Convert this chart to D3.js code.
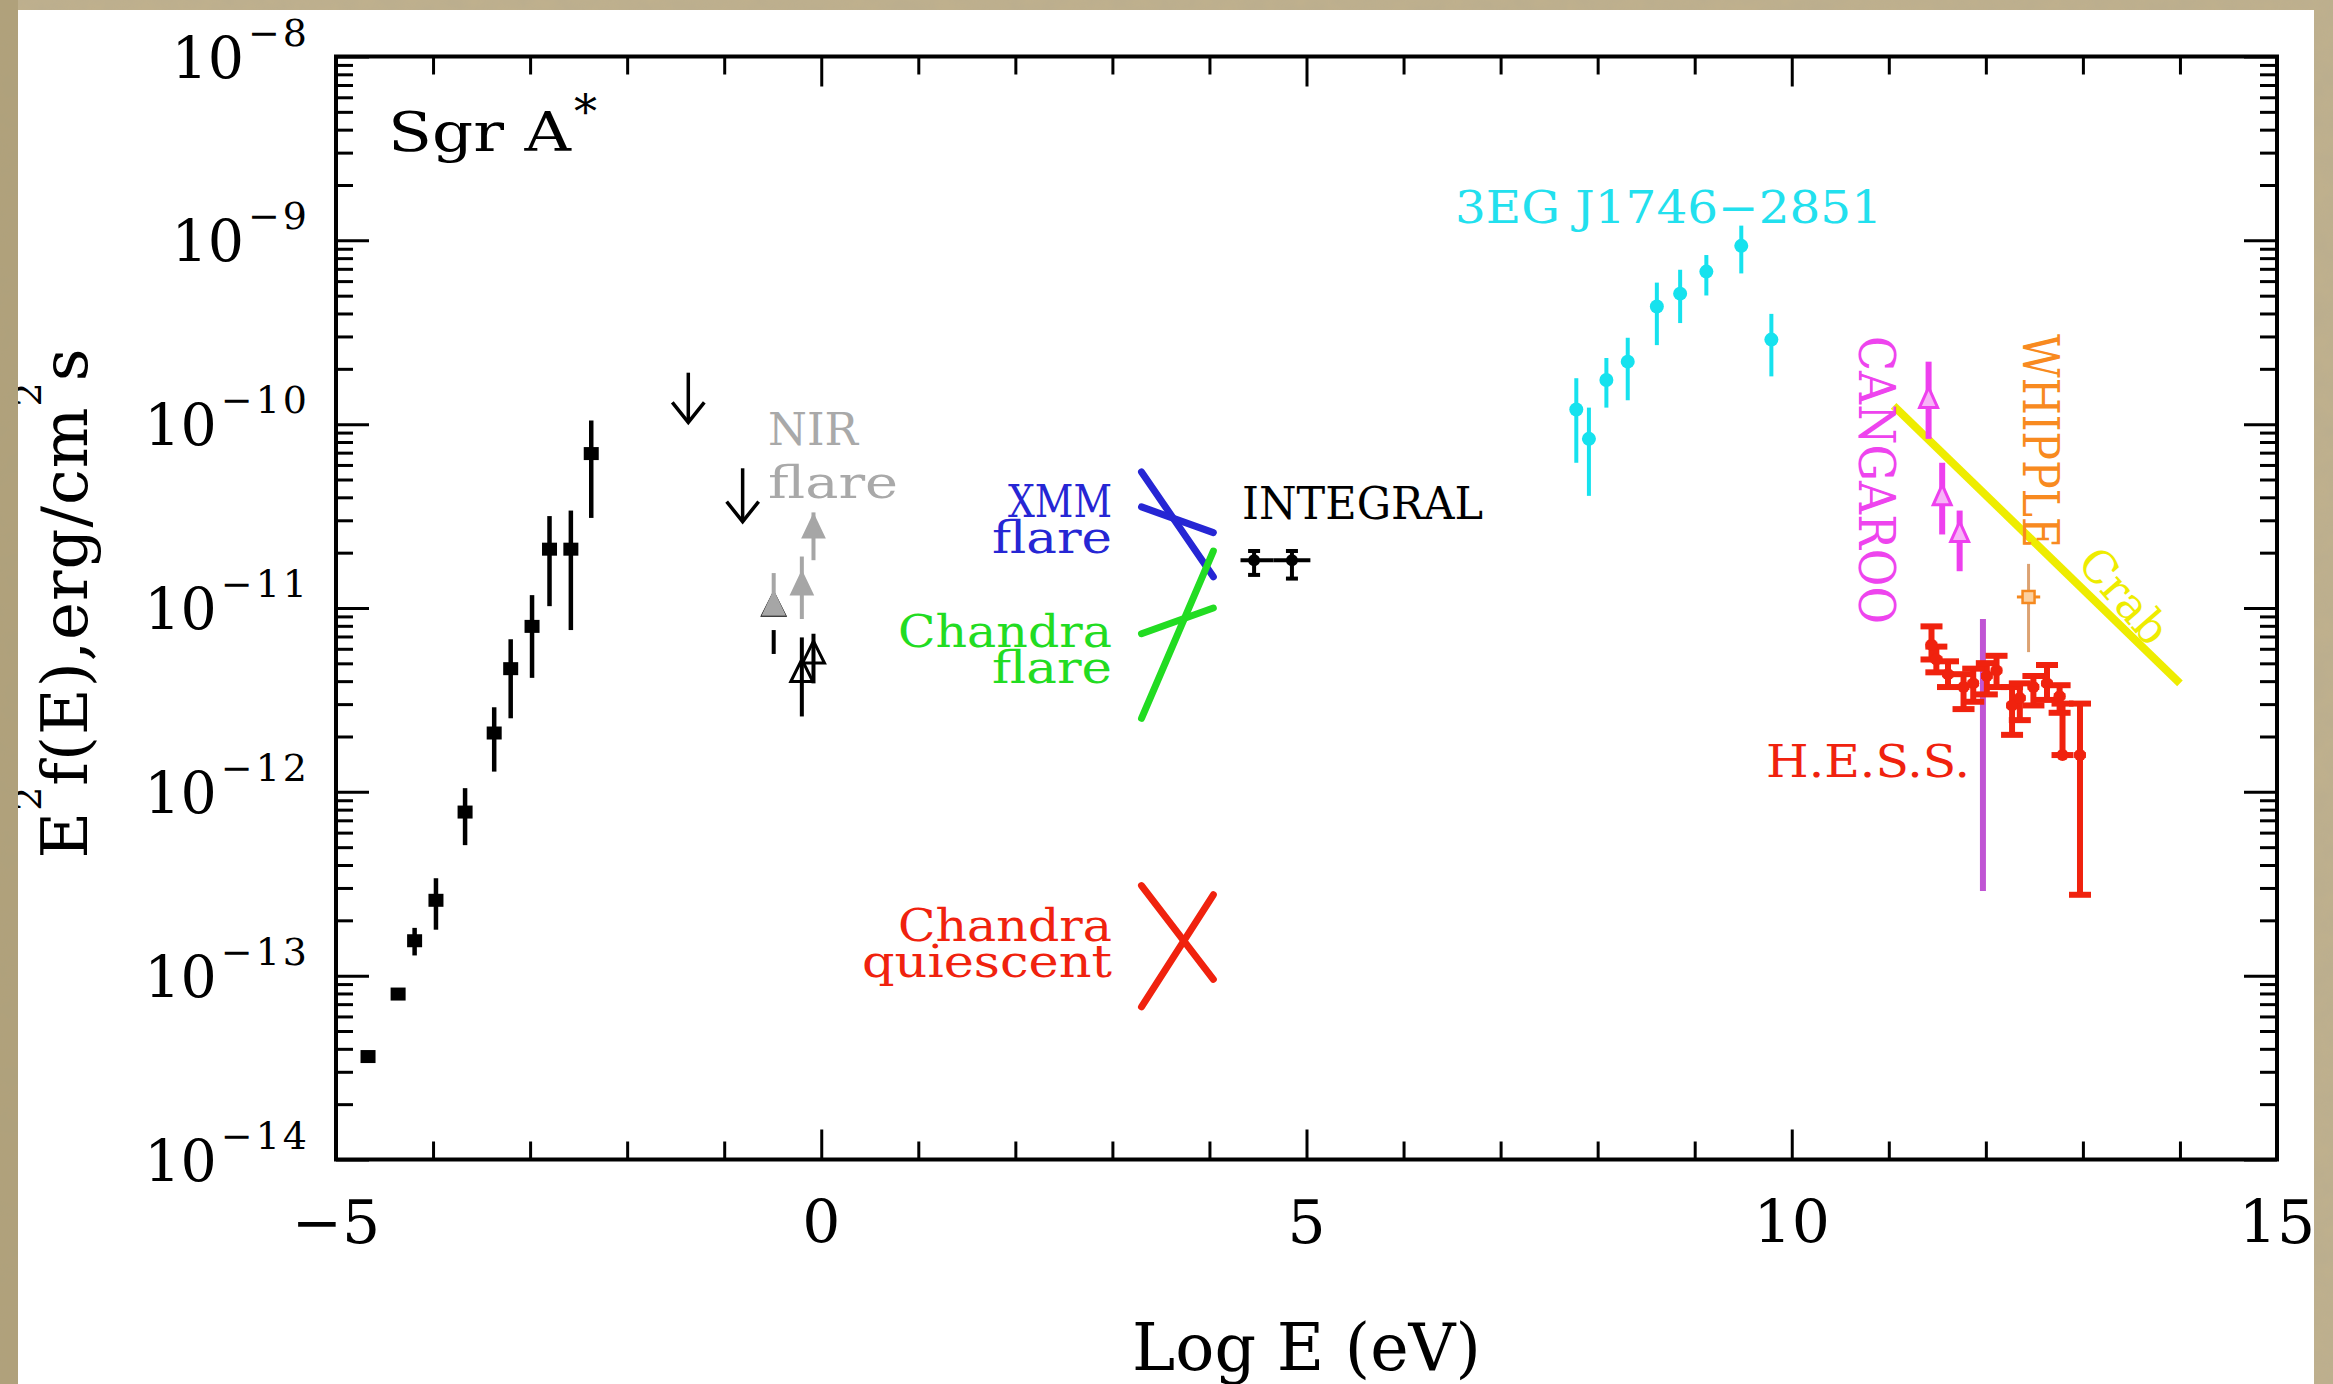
<!DOCTYPE html>
<html>
<head>
<meta charset="utf-8">
<script src="https://cdnjs.cloudflare.com/ajax/libs/d3/7.8.5/d3.min.js"></script>
<style>
  html, body { margin: 0; padding: 0; background: #bcad8a; }
  svg { display: block; }
  text { font-family: "DejaVu Serif", "Liberation Serif", serif; }
</style>
</head>
<body>
<svg id="chart" width="2333" height="1384"></svg>
<script>

// all energies are log10(E/eV), all fluxes log10(E^2 f(E)) in erg/cm2/s

// radio / submm (black squares)
var radioE  = [-4.67, -4.36, -4.19, -3.97, -3.67, -3.37, -3.20, -2.98, -2.80, -2.58, -2.37];
var radioF  = [-13.44, -13.10, -12.81, -12.59, -12.11, -11.68, -11.33, -11.10, -10.68, -10.68, -10.16];
var radioHi = [null, null, -12.74, -12.47, -11.98, -11.54, -11.17, -10.93, -10.50, -10.47, -9.98];
var radioLo = [null, null, -12.89, -12.75, -12.29, -11.89, -11.60, -11.38, -10.99, -11.12, -10.51];

// IR upper limits (black down arrows)
var ulE   = [-1.37, -0.81];
var ulF   = [-9.72, -10.24];
var ulTip = [-9.99, -10.53];

// NIR quiescent (black) and NIR flare (grey) lower limits
var nirqE    = [-0.49, -0.20, -0.08];
var nirqLo   = [-11.25, -11.59, -11.41];
var nirqHi   = [-11.12, -11.16, -11.14];
var nirqHead = [-10.92, -11.28, -11.18];
var nirE    = [-0.49, -0.20, -0.08];
var nirLo   = [-11.03, -11.06, -10.74];
var nirHi   = [-10.81, -10.72, -10.48];
var nirHead = [-10.92, -10.81, -10.50];

// X-ray bow ties
var xrayE = [3.30, 4.04];
var xmmSoft = [-10.26, -10.83];
var xmmHard = [-10.45, -10.59];
var chfSoft = [-11.60, -10.69];
var chfHard = [-11.14, -11.00];
var chqA = [-13.17, -12.56];
var chqB = [-12.51, -13.02];

// INTEGRAL
var intE   = [4.46, 4.85];
var intF   = [-10.74, -10.74];
var intElo = [4.32, 4.66];
var intEhi = [4.66, 5.04];
var intFlo = [-10.82, -10.84];
var intFhi = [-10.69, -10.69];

// 3EG J1746-2851
var egE  = [7.78, 7.91, 8.09, 8.31, 8.61, 8.85, 9.12, 9.48, 9.79];
var egF  = [-9.92, -10.08, -9.76, -9.66, -9.36, -9.29, -9.17, -9.03, -9.54];
var egHi = [-9.75, -9.91, -9.64, -9.53, -9.23, -9.16, -9.08, -8.92, -9.40];
var egLo = [-10.21, -10.39, -9.91, -9.87, -9.57, -9.45, -9.30, -9.18, -9.74];

// CANGAROO
var cgE    = [11.41, 11.55, 11.73];
var cgLo   = [-10.08, -10.60, -10.80];
var cgHi   = [-9.66, -10.21, -10.47];
var cgHead = [-9.80, -10.33, -10.53];
var cgBarE = [11.97];
var cgBarHi = [-11.06];
var cgBarLo = [-12.54];

// WHIPPLE
var whE = [12.44];
var whF = [-10.94];
var whHi = [-10.76];
var whLo = [-11.24];
var whEerr = [0.12];

// Crab reference spectrum
var crabE = [11.05, 14.0];
var crabF = [-9.90, -11.41];

// H.E.S.S.
var hessE  = [11.44, 11.49, 11.61, 11.77, 11.87, 12.01, 12.11, 12.27, 12.35, 12.49, 12.63, 12.76, 12.79, 12.97];
var hessF  = [-11.20, -11.28, -11.36, -11.43, -11.41, -11.37, -11.34, -11.53, -11.49, -11.43, -11.41, -11.48, -11.80, -11.80];
var hessHi = [-11.10, -11.21, -11.29, -11.36, -11.33, -11.30, -11.26, -11.43, -11.41, -11.37, -11.31, -11.42, -11.52, -11.52];
var hessLo = [-11.28, -11.35, -11.43, -11.55, -11.51, -11.47, -11.43, -11.69, -11.61, -11.53, -11.50, -11.57, -11.80, -12.56];

// axis ticks
var xMajor = [-5, 0, 5, 10, 15];
var xMinor = d3.range(-5, 16).filter(function(v) { return v % 5 !== 0; });
var yExp = d3.range(-14, -7);
var yMajor = yExp.map(function(n) { return Math.pow(10, n); });
var yMinor = [];
for (var n = -14; n < -8; n++) {
  for (var k = 2; k < 10; k++) yMinor.push(k * Math.pow(10, n));
}

/////////////////////////////
// frame and scales
//
var W = 2333, H = 1384;
var pL = 336, pR = 2277, pT = 56.5, pB = 1159.5;

var svg = d3.select('#chart');
var defs = svg.append('defs');

// a little grain on the beige mount
var grain = defs.append('filter').attr('id', 'grain');
grain.append('feTurbulence').attr('type', 'fractalNoise').attr('baseFrequency', 0.045).attr('numOctaves', 3).attr('seed', 4);
grain.append('feColorMatrix').attr('values', '0 0 0 0 0.45  0 0 0 0 0.40  0 0 0 0 0.28  0 0 0 0.55 -0.12');
grain.append('feComposite').attr('in2', 'SourceGraphic').attr('operator', 'in');

svg.append('rect').attr('width', W).attr('height', H).attr('fill', '#bfb08d');
svg.append('rect').attr('width', W).attr('height', H).attr('fill', '#bfb08d').attr('filter', 'url(#grain)');
svg.append('rect').attr('width', 18).attr('height', H).attr('fill', '#a6976f').attr('opacity', 0.6);

defs.append('clipPath').attr('id', 'paper')
  .append('rect').attr('x', 18).attr('y', 10).attr('width', 2296).attr('height', 1374);
svg.append('rect').attr('x', 18).attr('y', 10).attr('width', 2296).attr('height', 1374).attr('fill', 'white');

var g = svg.append('g').attr('clip-path', 'url(#paper)');

var x = d3.scaleLinear().domain([-5, 15]).range([pL, pR]);
var y = d3.scaleLog().domain([1e-14, 1e-8]).range([pB, pT]);
function Y(lf) { return y(Math.pow(10, lf)); }

var line = d3.line().x(function(d) { return x(d[0]); }).y(function(d) { return Y(d[1]); });

//vertical error bars
function vbars(E, Lo, Hi, color, w, cap) {
  var idx = d3.range(E.length).filter(function(i) { return Hi[i] !== null; });
  var grp = g.append('g').attr('stroke', color).attr('stroke-width', w);
  grp.selectAll('.bar').data(idx).join('line').attr('class', 'bar')
    .attr('x1', function(i) { return x(E[i]); })
    .attr('x2', function(i) { return x(E[i]); })
    .attr('y1', function(i) { return Y(Lo[i]); })
    .attr('y2', function(i) { return Y(Hi[i]); });
  if (cap) {
    [Lo, Hi].forEach(function(arr) {
      grp.append('g').selectAll('line').data(idx).join('line')
        .attr('x1', function(i) { return x(E[i]) - cap; })
        .attr('x2', function(i) { return x(E[i]) + cap; })
        .attr('y1', function(i) { return Y(arr[i]); })
        .attr('y2', function(i) { return Y(arr[i]); });
    });
  }
}

//up arrows with a triangle head
function upArrows(E, Lo, Hi, Head, color, fill, w, hw, hh) {
  var grp = g.append('g');
  grp.selectAll('line').data(E).join('line')
    .attr('x1', function(d) { return x(d); })
    .attr('x2', function(d) { return x(d); })
    .attr('y1', function(d, i) { return Y(Lo[i]); })
    .attr('y2', function(d, i) { return Y(Hi[i]); })
    .attr('stroke', color).attr('stroke-width', w);
  grp.selectAll('path').data(E).join('path')
    .attr('d', function(d, i) {
      var cx = x(d), ty = Y(Head[i]);
      return 'M' + (cx - hw) + ',' + (ty + hh) + 'L' + cx + ',' + ty + 'L' + (cx + hw) + ',' + (ty + hh) + 'Z';
    })
    .attr('fill', fill).attr('stroke', color).attr('stroke-width', 3);
}

/////////////////////////////
// data
//
// radio
vbars(radioE, radioLo, radioHi, '#000', 4.5, 0);
g.append('g').selectAll('rect').data(radioE).join('rect')
  .attr('x', function(d) { return x(d) - 7.5; })
  .attr('y', function(d, i) { return Y(radioF[i]) - 6.5; })
  .attr('width', 15).attr('height', 13).attr('fill', '#000');

// upper limits
var ul = g.append('g').attr('stroke', '#000').attr('stroke-width', 3.5).attr('fill', 'none');
ul.selectAll('line').data(ulE).join('line')
  .attr('x1', function(d) { return x(d); }).attr('x2', function(d) { return x(d); })
  .attr('y1', function(d, i) { return Y(ulF[i]); })
  .attr('y2', function(d, i) { return Y(ulTip[i]); });
ul.selectAll('path').data(ulE).join('path')
  .attr('d', function(d, i) {
    var cx = x(d), ty = Y(ulTip[i]);
    return 'M' + (cx - 16) + ',' + (ty - 20) + 'L' + cx + ',' + ty + 'L' + (cx + 16) + ',' + (ty - 20);
  });

// NIR
upArrows(nirqE, nirqLo, nirqHi, nirqHead, '#000', 'none', 4, 11, 22);
upArrows(nirE, nirLo, nirHi, nirHead, '#a6a6a6', '#a6a6a6', 4, 10, 21);

// X-ray bow ties
[[xmmSoft, '#2626d4'], [xmmHard, '#2626d4'], [chfSoft, '#22dc22'], [chfHard, '#22dc22'], [chqA, '#f0220e'], [chqB, '#f0220e']]
  .forEach(function(s) {
    g.append('path').datum(d3.zip(xrayE, s[0])).attr('d', line)
      .attr('fill', 'none').attr('stroke', s[1]).attr('stroke-width', 7).attr('stroke-linecap', 'round');
  });

// INTEGRAL
vbars(intE, intFlo, intFhi, '#000', 4, 6);
var ig = g.append('g').attr('stroke', '#000').attr('stroke-width', 4);
ig.selectAll('.h').data(intE).join('line').attr('class', 'h')
  .attr('x1', function(d, i) { return x(intElo[i]); })
  .attr('x2', function(d, i) { return x(intEhi[i]); })
  .attr('y1', function(d, i) { return Y(intF[i]); })
  .attr('y2', function(d, i) { return Y(intF[i]); });
ig.selectAll('circle').data(intE).join('circle')
  .attr('cx', function(d) { return x(d); })
  .attr('cy', function(d, i) { return Y(intF[i]); })
  .attr('r', 4).attr('fill', '#000');

// 3EG
vbars(egE, egLo, egHi, '#16e2ee', 4, 0);
g.append('g').selectAll('circle').data(egE).join('circle')
  .attr('cx', function(d) { return x(d); })
  .attr('cy', function(d, i) { return Y(egF[i]); })
  .attr('r', 7).attr('fill', '#16e2ee');

// Crab
g.append('path').datum(d3.zip(crabE, crabF)).attr('d', line)
  .attr('fill', 'none').attr('stroke', '#eeec00').attr('stroke-width', 8);

// CANGAROO
vbars(cgBarE, cgBarLo, cgBarHi, '#c055d4', 6, 0);
upArrows(cgE, cgLo, cgHi, cgHead, '#ee40ee', '#f7b4f7', 6, 9, 20);

// WHIPPLE
vbars(whE, whLo, whHi, '#dca272', 3, 0);
g.append('line')
  .attr('x1', x(whE[0] - whEerr[0])).attr('x2', x(whE[0] + whEerr[0]))
  .attr('y1', Y(whF[0])).attr('y2', Y(whF[0]))
  .attr('stroke', '#f5891f').attr('stroke-width', 3);
g.append('rect')
  .attr('x', x(whE[0]) - 6).attr('y', Y(whF[0]) - 6).attr('width', 12).attr('height', 12)
  .attr('fill', '#fbd0a0').attr('stroke', '#f5891f').attr('stroke-width', 2.5);

// H.E.S.S.
vbars(hessE, hessLo, hessHi, '#f0220e', 6, 11);
g.append('g').attr('stroke', '#f0220e').attr('stroke-width', 6)
  .selectAll('line').data(hessE).join('line')
  .attr('x1', function(d) { return x(d - 0.06); })
  .attr('x2', function(d) { return x(d + 0.06); })
  .attr('y1', function(d, i) { return Y(hessF[i]); })
  .attr('y2', function(d, i) { return Y(hessF[i]); });
g.append('g').selectAll('circle').data(hessE).join('circle')
  .attr('cx', function(d) { return x(d); })
  .attr('cy', function(d, i) { return Y(hessF[i]); })
  .attr('r', 6).attr('fill', '#f0220e');

/////////////////////////////
// axes
//
function ticks(axis, tr) {
  var a = g.append('g').attr('transform', tr).call(axis.tickFormat('').tickSizeOuter(0));
  a.select('.domain').remove();
  a.selectAll('line').attr('stroke', '#000').attr('stroke-width', 3);
}
ticks(d3.axisBottom(x).tickValues(xMajor).tickSize(-30), 'translate(0,' + pB + ')');
ticks(d3.axisBottom(x).tickValues(xMinor).tickSize(-18), 'translate(0,' + pB + ')');
ticks(d3.axisTop(x).tickValues(xMajor).tickSize(-30), 'translate(0,' + pT + ')');
ticks(d3.axisTop(x).tickValues(xMinor).tickSize(-18), 'translate(0,' + pT + ')');
ticks(d3.axisLeft(y).tickValues(yMajor).tickSize(-33), 'translate(' + pL + ',0)');
ticks(d3.axisLeft(y).tickValues(yMinor).tickSize(-17), 'translate(' + pL + ',0)');
ticks(d3.axisRight(y).tickValues(yMajor).tickSize(-33), 'translate(' + pR + ',0)');
ticks(d3.axisRight(y).tickValues(yMinor).tickSize(-17), 'translate(' + pR + ',0)');

g.append('rect')
  .attr('x', pL).attr('y', pT).attr('width', pR - pL).attr('height', pB - pT)
  .attr('fill', 'none').attr('stroke', '#000').attr('stroke-width', 4);

// tick labels
var yl = g.append('g').selectAll('text').data(yExp).join('text')
  .attr('x', pL - 26)
  .attr('y', function(d) { return Y(d) + 21; })
  .attr('text-anchor', 'end')
  .attr('font-size', 57);
yl.append('tspan').text('10');
yl.append('tspan').attr('dx', 4).attr('dy', -32).attr('font-size', 38).attr('letter-spacing', 3)
  .text(function(d) { return '\u2212' + (-d); });

g.append('g').selectAll('text').data(xMajor).join('text')
  .attr('x', function(d) { return x(d); })
  .attr('y', pB + 83)
  .attr('text-anchor', 'middle')
  .attr('font-size', 60)
  .text(function(d) { return d < 0 ? '\u2212' + (-d) : d; });

// axis titles
g.append('text').attr('x', (pL + pR) / 2).attr('y', 1370)
  .attr('text-anchor', 'middle').attr('font-size', 65)
  .text('Log E (eV)');

var yt = g.append('text').attr('transform', 'translate(87,603) rotate(-90)')
  .attr('text-anchor', 'middle').attr('font-size', 64).attr('letter-spacing', 1);
yt.append('tspan').text('E');
yt.append('tspan').attr('dy', -46).attr('font-size', 38).text('2');
yt.append('tspan').attr('dy', 46).text('f(E),erg/cm');
yt.append('tspan').attr('dy', -46).attr('font-size', 38).text('2');
yt.append('tspan').attr('dy', 46).text('s');

/////////////////////////////
// annotations
//
function note(txt, px, py, color, size, len, anchor) {
  var t = g.append('text').attr('x', px).attr('y', py).attr('fill', color)
    .attr('font-size', size).attr('text-anchor', anchor || 'start').text(txt);
  if (len) t.attr('textLength', len).attr('lengthAdjust', 'spacingAndGlyphs');
  return t;
}

note('Sgr A', 388, 151, '#000', 54, 183);
note('*', 574, 128, '#000', 46);

note('NIR', 768, 445, '#a9a9a9', 44, 90);
note('flare', 768, 498, '#a9a9a9', 44, 130);

note('XMM', 1112, 517, '#2626d4', 44, 104, 'end');
note('flare', 1112, 553, '#2626d4', 44, 120, 'end');
note('Chandra', 1112, 647, '#22dc22', 44, 214, 'end');
note('flare', 1112, 683, '#22dc22', 44, 120, 'end');
note('Chandra', 1112, 941, '#f0220e', 44, 214, 'end');
note('quiescent', 1112, 977, '#f0220e', 44, 250, 'end');

note('INTEGRAL', 1242, 519, '#000', 45, 241);
note('3EG J1746\u22122851', 1455, 223, '#22e0ee', 44, 427);
note('H.E.S.S.', 1766, 777, '#f0220e', 45, 204);

note('CANGAROO', 0, 0, '#ee44ee', 50, 288).attr('transform', 'translate(1859,336) rotate(90)');
note('WHIPPLE', 0, 0, '#f88a20', 50, 214).attr('transform', 'translate(2023,334) rotate(90)');
note('Crab', 0, 0, '#eeec00', 45, 0, 'middle')
  .attr('dominant-baseline', 'central')
  .attr('transform', 'translate(2124,596) rotate(49)');

</script>
</body>
</html>
